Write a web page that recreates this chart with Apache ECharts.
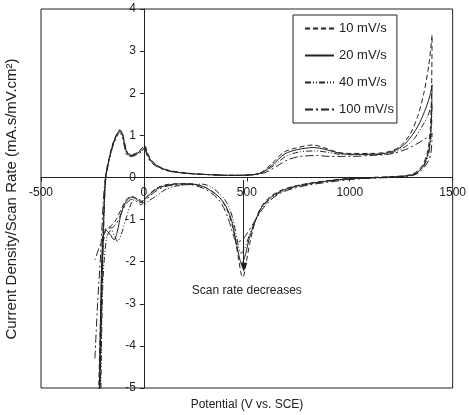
<!DOCTYPE html>
<html>
<head>
<meta charset="utf-8">
<script src="https://cdn.jsdelivr.net/npm/echarts@6/dist/echarts.min.js"></script>
<style>html,body{margin:0;padding:0;background:#fff}#c{width:469px;height:415px}</style>
</head>
<body>
<div id="c"></div>
<script>
// ---- Data ----
const seriesNames = ['10 mV/s', '20 mV/s', '40 mV/s', '100 mV/s'];
const xTicks = [-500, 0, 500, 1000, 1500];
const yTicks = [-5, -4, -3, -2, -1, 0, 1, 2, 3, 4];

// 10 mV/s (forward then reverse scan)
const potential10 = [-222,-210,-200,-192,-186,-170,-150,-130,-117,-105,-92,-78,-55,-30,-5,5,15,35,70,120,200,300,420,520,570,620,680,740,820,880,940,1000,1100,1180,1240,1290,1330,1360,1385,1400,
  1398,1392,1380,1355,1320,1280,1200,1100,1000,900,800,720,660,610,570,540,515,498,487,481,473,462,448,430,405,375,340,290,220,150,100,60,25,5,-15,-35,-60,-85,-110,-135,-160,-185,-198,-206,-214];
const current10 = [-5.5,-3.2,-1.5,-0.4,0.05,0.45,0.82,1.05,1.13,1.05,0.78,0.58,0.55,0.6,0.72,0.76,0.62,0.42,0.27,0.17,0.11,0.07,0.05,0.06,0.12,0.32,0.6,0.7,0.77,0.7,0.6,0.57,0.57,0.6,0.72,1.0,1.45,2.0,2.7,3.38,
  2.2,1.2,0.65,0.3,0.12,0.05,0.02,0.0,-0.02,-0.07,-0.14,-0.22,-0.32,-0.47,-0.7,-1.05,-1.55,-2.0,-2.3,-2.37,-2.3,-2.0,-1.6,-1.15,-0.78,-0.52,-0.36,-0.22,-0.15,-0.15,-0.18,-0.26,-0.4,-0.5,-0.58,-0.5,-0.45,-0.52,-0.75,-1.0,-1.15,-1.25,-1.6,-2.8,-5.5];

// 20 mV/s
const potential20 = [-218,-207,-198,-190,-184,-168,-150,-130,-117,-104,-92,-78,-55,-30,-5,5,15,35,70,120,200,300,420,520,575,625,685,745,825,885,945,1000,1100,1180,1250,1300,1340,1370,1390,1400,
  1398,1393,1382,1358,1322,1280,1200,1100,1000,900,800,720,660,610,570,540,512,495,482,476,468,456,442,425,400,372,338,290,220,150,100,60,25,5,-15,-35,-60,-85,-110,-130,-145,-165,-185,-200,-209,-218];
const current20 = [-5.5,-3.0,-1.4,-0.35,0.05,0.45,0.8,1.03,1.12,1.04,0.76,0.55,0.53,0.58,0.68,0.72,0.58,0.4,0.26,0.16,0.1,0.07,0.05,0.06,0.12,0.3,0.56,0.66,0.71,0.66,0.58,0.55,0.55,0.58,0.72,0.98,1.3,1.65,1.95,2.2,
  1.6,1.0,0.6,0.28,0.1,0.04,0.01,-0.01,-0.03,-0.08,-0.15,-0.23,-0.34,-0.5,-0.72,-1.05,-1.45,-1.8,-2.0,-2.05,-1.98,-1.72,-1.38,-1.0,-0.7,-0.5,-0.36,-0.22,-0.15,-0.16,-0.2,-0.28,-0.42,-0.52,-0.6,-0.52,-0.47,-0.56,-0.85,-1.3,-1.48,-1.35,-1.25,-1.5,-2.8,-5.5];

// 40 mV/s
const potential40 = [-214,-204,-196,-189,-183,-167,-150,-130,-118,-106,-93,-80,-56,-30,-5,5,15,35,70,120,200,300,420,520,580,630,690,750,830,890,950,1000,1100,1190,1260,1310,1350,1378,1400,
  1398,1393,1383,1360,1325,1285,1200,1100,1000,900,800,720,660,612,572,540,510,490,472,466,458,446,432,415,392,365,332,285,220,150,100,60,25,5,-15,-35,-60,-85,-110,-128,-142,-160,-182,-200,-210,-220];
const current40 = [-5.5,-2.9,-1.3,-0.3,0.05,0.44,0.78,1.02,1.1,1.02,0.74,0.54,0.52,0.57,0.65,0.69,0.55,0.38,0.25,0.16,0.1,0.07,0.05,0.06,0.12,0.28,0.5,0.6,0.63,0.6,0.55,0.54,0.54,0.57,0.7,0.9,1.2,1.45,1.75,
  1.3,0.85,0.55,0.27,0.1,0.04,0.01,-0.01,-0.04,-0.09,-0.16,-0.25,-0.36,-0.52,-0.74,-1.05,-1.4,-1.68,-1.8,-1.77,-1.6,-1.3,-0.98,-0.72,-0.52,-0.38,-0.24,-0.16,-0.17,-0.21,-0.3,-0.44,-0.55,-0.63,-0.55,-0.5,-0.6,-0.95,-1.35,-1.52,-1.4,-1.25,-1.45,-2.6,-5.5];

// 100 mV/s
const potential100 = [-238,-225,-210,-197,-187,-170,-150,-130,-119,-107,-94,-82,-58,-32,-5,5,15,35,70,120,200,300,420,520,585,640,700,760,840,900,960,1000,1100,1200,1270,1320,1360,1385,1400,
  1399,1395,1385,1362,1328,1288,1200,1100,1000,900,800,720,660,615,575,540,505,478,455,445,436,424,408,388,362,330,285,220,150,100,60,25,5,-15,-35,-60,-85,-110,-135,-160,-182,-200,-220,-238];
const current100 = [-4.3,-3.0,-1.8,-0.55,0.0,0.4,0.75,0.98,1.07,1.0,0.72,0.52,0.5,0.55,0.62,0.65,0.52,0.36,0.24,0.15,0.1,0.07,0.05,0.06,0.11,0.25,0.42,0.5,0.52,0.5,0.5,0.5,0.52,0.56,0.66,0.78,0.9,0.98,1.05,
  0.85,0.6,0.42,0.24,0.09,0.03,0.0,-0.02,-0.05,-0.11,-0.18,-0.27,-0.38,-0.54,-0.76,-1.02,-1.3,-1.48,-1.53,-1.5,-1.4,-1.2,-0.95,-0.72,-0.52,-0.38,-0.25,-0.17,-0.18,-0.22,-0.32,-0.46,-0.57,-0.65,-0.57,-0.52,-0.62,-0.85,-1.1,-1.2,-1.2,-1.45,-1.7,-1.96];

const lineTypes = [[5,3], 'solid', [6,2,1,2,1,2], [8,3,2,3]];

// ---- Chart ----
const chart = echarts.init(document.getElementById('c'), null, {renderer: 'canvas'});
const pairs = (xs, ys) => xs.map((x, i) => [x, ys[i]]);
const allData = [pairs(potential10, current10), pairs(potential20, current20), pairs(potential40, current40), pairs(potential100, current100)];
const FONT = '"Liberation Sans", Arial, sans-serif';
const INK = '#222';
const GRID = {left: 41, right: 16, top: 9, bottom: 27};
const W = 469, H = 415;

const series = seriesNames.map((name, i) => ({
  name: name,
  type: 'line',
  data: allData[i],
  symbol: 'none',
  smooth: 0.3,
  clip: true,
  lineStyle: {color: INK, width: 1, type: lineTypes[i]},
  itemStyle: {color: INK},
  animation: false
}));
series[0].markLine = {
  silent: true,
  symbol: ['none', 'triangle'],
  symbolSize: [7, 9],
  label: {show: false},
  lineStyle: {color: INK, width: 1, type: 'solid'},
  data: [[{coord: [485, -0.06]}, {coord: [485, -2.13]}]],
  animation: false
};

chart.setOption({
  animation: false,
  backgroundColor: '#fff',
  grid: Object.assign({show: true, borderColor: INK, borderWidth: 1, backgroundColor: 'transparent'}, GRID),
  xAxis: {
    type: 'value', position: 'bottom', min: xTicks[0], max: xTicks[xTicks.length - 1], interval: 500,
    axisLine: {onZero: false, lineStyle: {color: INK, width: 1}},
    axisTick: {show: true, length: 4, lineStyle: {color: INK}},
    axisLabel: {color: INK, fontSize: 12, fontFamily: FONT, margin: 9, formatter: v => String(v)},
    splitLine: {show: false}
  },
  yAxis: {
    type: 'value', position: 'left', min: yTicks[0], max: yTicks[yTicks.length - 1], interval: 1,
    axisLine: {onZero: false, lineStyle: {color: INK, width: 1}},
    axisTick: {show: true, length: 4, lineStyle: {color: INK}},
    axisLabel: {color: INK, fontSize: 12, fontFamily: FONT, margin: 8, formatter: v => String(v)},
    splitLine: {show: false}
  },
  legend: {
    orient: 'vertical', left: 293, top: 15,
    data: seriesNames,
    borderColor: INK, borderWidth: 1,
    padding: [7, 3, 7, 11],
    itemGap: 14, itemWidth: 29, itemHeight: 14,
    itemStyle: {opacity: 0},
    textStyle: {color: INK, fontSize: 13, fontFamily: FONT},
    selectedMode: false
  },
  series: series
});

// move the axes so they cross at the origin (0, 0)
const origin = chart.convertToPixel({gridIndex: 0}, [0, 0]);
const textPos = chart.convertToPixel({gridIndex: 0}, [500, -2.68]);
chart.setOption({
  xAxis: {offset: origin[1] - (H - GRID.bottom)},
  yAxis: {offset: GRID.left - origin[0]},
  graphic: [
    {type: 'text', x: textPos[0], y: textPos[1], style: {text: 'Scan rate decreases', fill: INK, font: '12px ' + FONT, textAlign: 'center', textVerticalAlign: 'middle'}},
    {type: 'text', x: 247, y: 405, style: {text: 'Potential (V vs. SCE)', fill: INK, font: '12px ' + FONT, textAlign: 'center', textVerticalAlign: 'middle'}},
    {type: 'text', x: 12, y: 199, rotation: Math.PI / 2, style: {text: 'Current Density/Scan Rate (mA.s/mV.cm²)', fill: INK, font: '15px ' + FONT, textAlign: 'center', textVerticalAlign: 'middle'}}
  ]
});
</script>
</body>
</html>
